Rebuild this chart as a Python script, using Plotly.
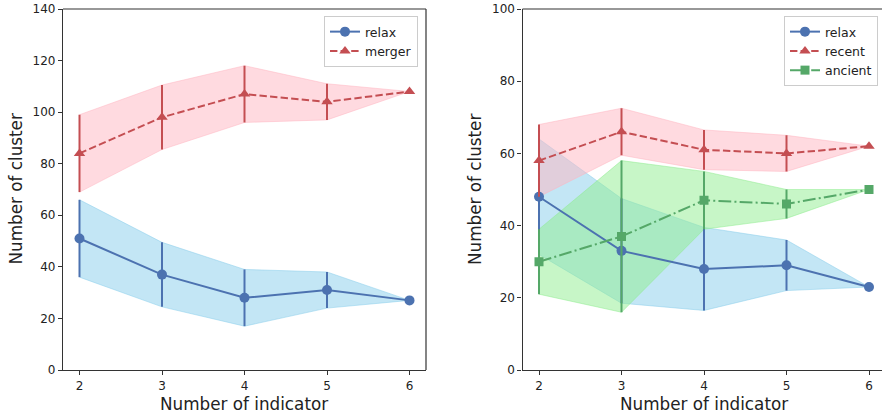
import plotly.graph_objects as go

# Number of indicators used for classification
indicators = [2, 3, 4, 5, 6]

# Left panel: relaxed vs merging clusters
relax_a = [51, 37, 28, 31, 27]
relax_a_err = [15, 12.5, 11, 7, 0]
merger = [84, 98, 107, 104, 108]
merger_err = [15, 12.5, 11, 7, 0]

# Right panel: relaxed, recent merger and ancient merger clusters
relax_b = [48, 33, 28, 29, 23]
relax_b_err = [16, 14.5, 11.5, 7, 0]
recent = [58, 66, 61, 60, 62]
recent_err = [10, 6.5, 5.5, 5, 0]
ancient = [30, 37, 47, 46, 50]
ancient_err = [9, 21, 8, 4, 0]

left_ticks_y = [0, 20, 40, 60, 80, 100, 120, 140]
right_ticks_y = [0, 20, 40, 60, 80, 100]

W, H = 882, 419
FONT = "DejaVu Sans"
BLUE, RED, GREEN = "#4C72B0", "#C44E52", "#55A868"
FILL_BLUE = "rgba(135,206,235,0.5)"
FILL_RED = "rgba(255,182,193,0.5)"
FILL_GREEN = "rgba(144,238,144,0.5)"

fig = go.Figure()


def band(x, y, err, color, xa, ya):
    up = [v + e for v, e in zip(y, err)]
    lo = [v - e for v, e in zip(y, err)]
    fig.add_trace(go.Scatter(
        x=list(x) + list(x)[::-1], y=up + lo[::-1], fill="toself",
        fillcolor=color, line=dict(color=color, width=1), mode="lines",
        hoverinfo="skip", showlegend=False, xaxis=xa, yaxis=ya))


def series(x, y, err, name, color, symbol, size, dash, xa, ya, legend):
    fig.add_trace(go.Scatter(
        x=x, y=y, name=name, mode="lines+markers",
        line=dict(color=color, width=2, dash=dash),
        marker=dict(color=color, symbol=symbol, size=size),
        error_y=dict(type="data", array=err, visible=True, color=color,
                     thickness=2, width=0),
        xaxis=xa, yaxis=ya, legend=legend))


# bands sit below all lines
band(indicators, relax_a, relax_a_err, FILL_BLUE, "x", "y")
band(indicators, merger, merger_err, FILL_RED, "x", "y")
band(indicators, relax_b, relax_b_err, FILL_BLUE, "x2", "y2")
band(indicators, recent, recent_err, FILL_RED, "x2", "y2")
band(indicators, ancient, ancient_err, FILL_GREEN, "x2", "y2")

DASHED = "7.4px,3.2px"
DASHDOT = "12.8px,3.2px,2px,3.2px"
series(indicators, relax_a, relax_a_err, "relax", BLUE, "circle", 10, "solid", "x", "y", "legend")
series(indicators, merger, merger_err, "merger", RED, "triangle-up", 10, DASHED, "x", "y", "legend")
series(indicators, relax_b, relax_b_err, "relax", BLUE, "circle", 10, "solid", "x2", "y2", "legend2")
series(indicators, recent, recent_err, "recent", RED, "triangle-up", 10, DASHED, "x2", "y2", "legend2")
series(indicators, ancient, ancient_err, "ancient", GREEN, "square", 9, DASHDOT, "x2", "y2", "legend2")

# plot areas in pixels
L1, R1 = 63, 426
L2 = 522.5
TOP, BOT = 9, 370
px = lambda v: v / W
py = lambda v: 1 - v / H

axis_common = dict(
    showgrid=False, zeroline=False, showline=True, linecolor="#333",
    linewidth=1.2, ticks="outside", ticklen=4, tickcolor="#333",
    tickfont=dict(family=FONT, size=12, color="#222"), automargin=False,
)

x_span = 6.2 - 1.8
x2_hi = 1.8 + (W - L2) * x_span / (R1 - L1)

fig.update_layout(
    width=W, height=H, margin=dict(l=0, r=0, t=0, b=0),
    paper_bgcolor="white", plot_bgcolor="white",
    font=dict(family=FONT, color="#222"),
    xaxis=dict(domain=[px(L1), px(R1)], range=[1.8, 6.2], tickvals=indicators,
               anchor="y", **axis_common),
    yaxis=dict(domain=[py(BOT), py(TOP)], range=[0, 140], tickvals=left_ticks_y,
               anchor="x", **axis_common),
    xaxis2=dict(domain=[px(L2), 1.0], range=[1.8, x2_hi], tickvals=indicators,
                anchor="y2", **axis_common),
    yaxis2=dict(domain=[py(BOT), py(TOP)], range=[0, 100], tickvals=right_ticks_y,
                anchor="x2", **axis_common),
    legend=dict(x=px(418), y=py(16), xanchor="right", yanchor="top",
                bgcolor="rgba(255,255,255,0.8)", bordercolor="#ccc", borderwidth=1,
                font=dict(family=FONT, size=12.5, color="#222"), tracegroupgap=0),
    legend2=dict(x=px(878), y=py(16), xanchor="right", yanchor="top",
                 bgcolor="rgba(255,255,255,0.8)", bordercolor="#ccc", borderwidth=1,
                 font=dict(family=FONT, size=12.5, color="#222"), tracegroupgap=0),
    showlegend=True,
)

# top/right spines
fig.add_shape(type="line", xref="paper", yref="paper", x0=px(L1), x1=px(R1),
              y0=py(TOP), y1=py(TOP), line=dict(color="#333", width=1.2))
fig.add_shape(type="line", xref="paper", yref="paper", x0=px(R1), x1=px(R1),
              y0=py(TOP), y1=py(BOT), line=dict(color="#333", width=1.2))
fig.add_shape(type="line", xref="paper", yref="paper", x0=px(L2), x1=1.0,
              y0=py(TOP), y1=py(TOP), line=dict(color="#333", width=1.2))

# axis titles
title_font = dict(family=FONT, size=16.8, color="#222")
for cx in [(L1 + R1) / 2, (L2 + 6.0 * 0 + (L2 + (6.2 - 1.8) * (R1 - L1) / x_span)) / 2]:
    fig.add_annotation(text="Number of indicator", x=px(cx), y=py(404),
                       xref="paper", yref="paper", showarrow=False,
                       xanchor="center", yanchor="middle", font=title_font)
for cx in [15, 15 + (L2 - L1)]:
    fig.add_annotation(text="Number of cluster", x=px(cx), y=py((TOP + BOT) / 2),
                       xref="paper", yref="paper", showarrow=False, textangle=-90,
                       xanchor="center", yanchor="middle", font=title_font)

fig.write_html("out.html")
